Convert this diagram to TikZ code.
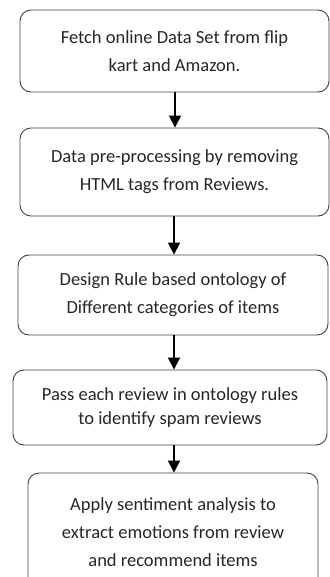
\documentclass[tikz,border=0pt]{standalone}
\usepackage{fontspec}
\setmainfont{Carlito}
\usepackage{tikz}
\usetikzlibrary{arrows.meta}

\begin{document}
\begin{tikzpicture}[x=1pt, y=-1pt, >={Triangle[length=12pt, width=12pt]},
	stepbox/.style={draw=black!75, text=black!85, line width=0.9pt, rounded corners=11pt, align=center, inner sep=0pt, font={\fontsize{18.5}{28}\selectfont}},
	flow/.style={->, line width=1.8pt}]
	\useasboundingbox (0,0) rectangle (329,577);
	\node[stepbox, minimum width=309pt, minimum height=82pt] (fetch) at (174.5,51) {Fetch online Data Set from flip\\ kart and Amazon.};
	\node[stepbox, minimum width=309pt, minimum height=88pt] (clean) at (174.5,172) {Data pre-processing by removing\\ HTML tags from Reviews.};
	\node[stepbox, minimum width=310pt, minimum height=80pt] (rules) at (173,295) {Design Rule based ontology of\\ Different categories of items};
	\node[stepbox, minimum width=314pt, minimum height=75pt, font={\fontsize{18.5}{24}\selectfont}] (spam) at (170,407.5) {Pass each review in ontology rules\\ to identify spam reviews};
	\node[stepbox, minimum width=290pt, minimum height=118pt] (senti) at (173,532) {Apply sentiment analysis to\\ extract emotions from review\\ and recommend items};
	\draw[flow] (fetch.south -| 175,0) -- (clean.north -| 175,0);
	\draw[flow] (clean.south -| 174,0) -- (rules.north -| 174,0);
	\draw[flow] (rules.south -| 174,0) -- (spam.north -| 174,0);
	\draw[flow] (spam.south -| 174,0) -- (senti.north -| 174,0);
\end{tikzpicture}
\end{document}
